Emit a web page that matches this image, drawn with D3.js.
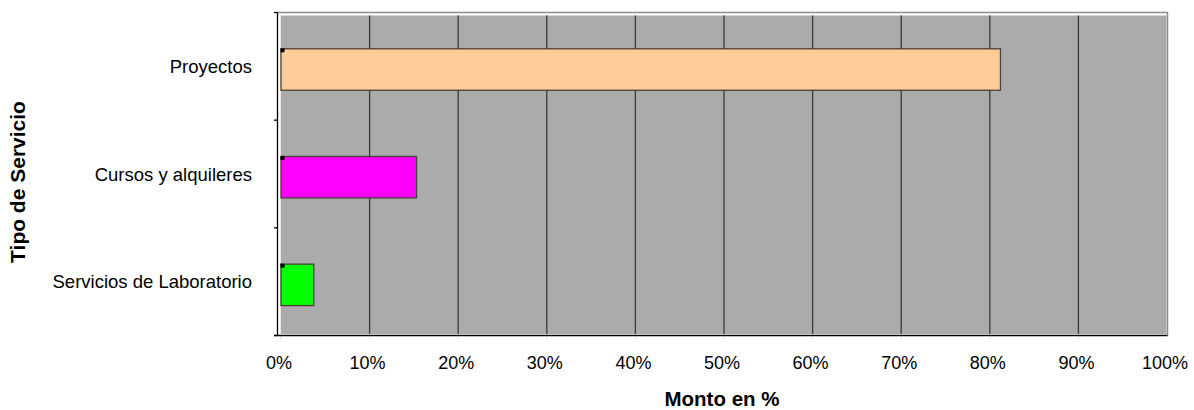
<!DOCTYPE html>
<html>
<head>
<meta charset="utf-8">
<script src="https://cdn.jsdelivr.net/npm/d3@7"></script>
<style>
  html, body { margin: 0; padding: 0; background: #ffffff; }
  svg { display: block; font-family: "Liberation Sans", Arial, sans-serif; }
</style>
</head>
<body>
<svg id="chart" width="1194" height="410"></svg>
<script>
// Service types and their share of the total amount (%)
const categories = ["Proyectos", "Cursos y alquileres", "Servicios de Laboratorio"];
const shares = [81.2, 15.3, 3.7];
const barColors = ["#ffcc99", "#ff00ff", "#00ff00"];
const xTicks = [0, 10, 20, 30, 40, 50, 60, 70, 80, 90, 100];
const xTitle = "Monto en %";
const yTitle = "Tipo de Servicio";

const svg = d3.select("#chart");

// Plot frame
const frameL = 277.5, frameR = 1167.5, frameT = 12.5, frameB = 335.5;
const fillL = 281, fillT = 15.5, fillB = 334;

const x = d3.scaleLinear().domain([0, 100]).range([fillL, 1167]);
// band scale for the axis ticks, and a shifted one for the shaded plot area
const yAxis = d3.scaleBand().domain(categories).range([frameT, frameB]);
const yPlot = d3.scaleBand().domain(categories).range([fillT + 0.2, frameB + 3.2]);

// frame outline (top & right)
svg.append("path")
  .attr("d", `M${frameL},${frameT}H${frameR}V${frameB}`)
  .attr("fill", "none").attr("stroke", "#8c8c8c").attr("stroke-width", 1.5);

// shaded plot area
svg.append("rect")
  .attr("x", fillL).attr("y", fillT)
  .attr("width", frameR - 1 - fillL).attr("height", fillB - fillT)
  .attr("fill", "#ababab");

// faint line at 0%
svg.append("line")
  .attr("x1", fillL - 0.5).attr("x2", fillL - 0.5)
  .attr("y1", fillT).attr("y2", frameB + 4)
  .attr("stroke", "#f3e6d8").attr("stroke-width", 1);

// vertical gridlines
svg.append("g").selectAll("line")
  .data(xTicks.filter(t => t > 0 && t < 100))
  .join("line")
  .attr("x1", d => x(d)).attr("x2", d => x(d))
  .attr("y1", fillT).attr("y2", fillB)
  .attr("stroke", "#3a3a3a").attr("stroke-width", 1.3);

// small tick marks below the value axis
svg.append("g").selectAll("line")
  .data(xTicks.filter(t => t < 100))
  .join("line")
  .attr("x1", d => x(d)).attr("x2", d => x(d))
  .attr("y1", frameB + 1).attr("y2", frameB + 4)
  .attr("stroke", "#f2dcc4").attr("stroke-width", 1);

// bars
const barH = yPlot.bandwidth() * 0.385;
const bars = svg.append("g").selectAll("g")
  .data(categories.map((c, i) => ({ c, v: shares[i], color: barColors[i] })))
  .join("g");

bars.append("rect")
  .attr("x", x(0))
  .attr("y", d => yPlot(d.c) + (yPlot.bandwidth() - barH) / 2)
  .attr("width", d => x(d.v) - x(0))
  .attr("height", barH)
  .attr("fill", d => d.color)
  .attr("stroke", "#4a4038").attr("stroke-width", 1.3);

bars.append("rect")
  .attr("x", x(0) - 0.5)
  .attr("y", d => yPlot(d.c) + (yPlot.bandwidth() - barH) / 2 - 0.5)
  .attr("width", 4).attr("height", 4)
  .attr("fill", "#000");

// value axis line (bottom)
svg.append("line")
  .attr("x1", frameL - 3.5).attr("x2", frameR)
  .attr("y1", frameB).attr("y2", frameB)
  .attr("stroke", "#000").attr("stroke-width", 1.3);

// category axis line (left) with ticks at category boundaries
svg.append("line")
  .attr("x1", frameL).attr("x2", frameL)
  .attr("y1", frameT).attr("y2", frameB)
  .attr("stroke", "#000").attr("stroke-width", 1.3);

const boundaries = categories.map(c => yAxis(c)).concat([frameB]);
svg.append("g").selectAll("line")
  .data(boundaries)
  .join("line")
  .attr("x1", frameL - 3.5).attr("x2", frameL)
  .attr("y1", d => d).attr("y2", d => d)
  .attr("stroke", "#000").attr("stroke-width", 1.3);

// category labels
svg.append("g").selectAll("text")
  .data(categories)
  .join("text")
  .attr("x", 252)
  .attr("y", d => yAxis(d) + yAxis.bandwidth() / 2)
  .attr("dy", "0.36em")
  .attr("text-anchor", "end")
  .attr("font-size", 18.5)
  .attr("fill", "#000")
  .text(d => d);

// value tick labels
svg.append("g").selectAll("text")
  .data(xTicks)
  .join("text")
  .attr("x", d => x(d) - 2)
  .attr("y", 369)
  .attr("text-anchor", "middle")
  .attr("font-size", 18)
  .attr("fill", "#000")
  .text(d => d + "%");

// axis titles
svg.append("text")
  .attr("x", 722).attr("y", 406)
  .attr("text-anchor", "middle")
  .attr("font-size", 20.5).attr("font-weight", "bold")
  .text(xTitle);

svg.append("text")
  .attr("transform", "translate(25,182) rotate(-90)")
  .attr("text-anchor", "middle")
  .attr("font-size", 21).attr("font-weight", "bold")
  .text(yTitle);
</script>
</body>
</html>
